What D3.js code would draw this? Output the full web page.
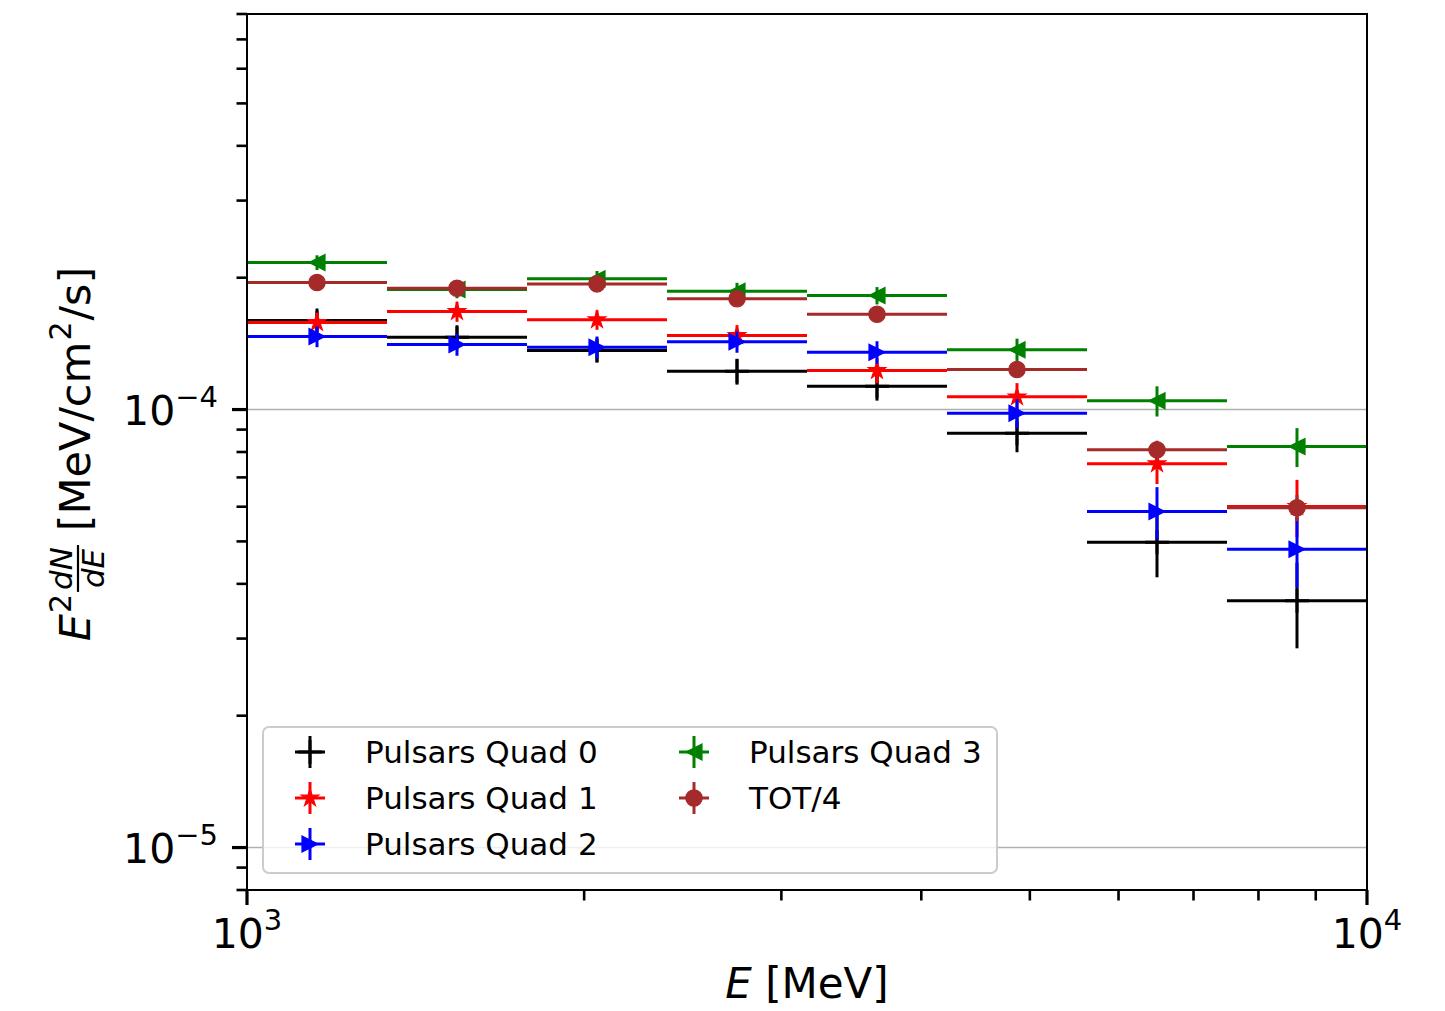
<!DOCTYPE html>
<html><head><meta charset="utf-8">
<script src="https://cdn.jsdelivr.net/npm/d3@7"></script>
<style>body{margin:0;background:#fff} text{font-family:"DejaVu Sans",sans-serif;fill:#000}</style>
</head><body><svg id="c" width="1445" height="1011"></svg>
<script>
// ---- data (E in MeV, E^2 dN/dE in MeV/cm^2/s) ----
const binEdges   = [1000, 1333.5, 1778.3, 2371.4, 3162.3, 4217.0, 5623.4, 7498.9, 10000];
const binCenters = [1154.8, 1539.9, 2053.5, 2738.4, 3651.7, 4869.7, 6493.8, 8659.6];

const quad0    = [1.597e-4, 1.463e-4, 1.364e-4, 1.223e-4, 1.130e-4, 0.883e-4, 0.498e-4, 0.366e-4];
const quad0Err = [0.083e-4, 0.083e-4, 0.082e-4, 0.083e-4, 0.082e-4, 0.084e-4, 0.084e-4, 0.081e-4];
const quad1    = [1.580e-4, 1.674e-4, 1.603e-4, 1.476e-4, 1.228e-4, 1.069e-4, 0.752e-4, 0.601e-4];
const quad1Err = [0.082e-4, 0.088e-4, 0.082e-4, 0.082e-4, 0.080e-4, 0.080e-4, 0.076e-4, 0.090e-4];
const quad2    = [1.468e-4, 1.407e-4, 1.388e-4, 1.428e-4, 1.352e-4, 0.981e-4, 0.585e-4, 0.480e-4];
const quad2Err = [0.080e-4, 0.080e-4, 0.080e-4, 0.080e-4, 0.080e-4, 0.075e-4, 0.080e-4, 0.088e-4];
const quad3    = [2.166e-4, 1.879e-4, 1.988e-4, 1.863e-4, 1.821e-4, 1.369e-4, 1.047e-4, 0.823e-4];
const quad3Err = [0.084e-4, 0.084e-4, 0.084e-4, 0.084e-4, 0.083e-4, 0.083e-4, 0.083e-4, 0.084e-4];
const totQuarter    = [1.950e-4, 1.892e-4, 1.936e-4, 1.790e-4, 1.651e-4, 1.234e-4, 0.809e-4, 0.597e-4];
const totQuarterErr = [0.042e-4, 0.042e-4, 0.042e-4, 0.041e-4, 0.041e-4, 0.040e-4, 0.040e-4, 0.041e-4];

const seriesNames   = ["Pulsars Quad 0", "Pulsars Quad 1", "Pulsars Quad 2", "Pulsars Quad 3", "TOT/4"];
const seriesColors  = ["#000000", "#ff0000", "#0000ff", "#008000", "#a52a2a"];
const seriesMarkers = ["plus", "star", "triRight", "triLeft", "circle"];
const seriesValues  = [quad0, quad1, quad2, quad3, totQuarter];
const seriesErrors  = [quad0Err, quad1Err, quad2Err, quad3Err, totQuarterErr];

const xMajorTicks = [1000, 10000];
const xMinorTicks = [2000, 3000, 4000, 5000, 6000, 7000, 8000, 9000];
const xTickExp    = ["3", "4"];
const yMajorTicks = [1e-5, 1e-4];
const yMinorTicks = [8e-6, 9e-6, 2e-5, 3e-5, 4e-5, 5e-5, 6e-5, 7e-5, 8e-5, 9e-5,
                     2e-4, 3e-4, 4e-4, 5e-4, 6e-4, 7e-4, 8e-4];
const yTickExp    = ["\u22125", "\u22124"];

// ---- layout ----
const L = 247, R = 1367, T = 14, B = 890;
const svg = d3.select("#c");
const x = d3.scaleLog().domain([1000, 10000]).range([L, R]);
const y = d3.scaleLog().domain([8e-6, 8e-4]).range([B, T]);

// grid
svg.append("g").selectAll("line").data(yMajorTicks).join("line")
  .attr("x1", L).attr("x2", R).attr("y1", d => y(d)).attr("y2", d => y(d))
  .attr("stroke", "#b0b0b0").attr("stroke-width", 1.6);

// markers
function markerPath(type) {
  switch (type) {
    case "star": return d3.symbol(d3.symbolStar, 95)();
    case "triRight": return "M-8,-8L8,0L-8,8Z";
    case "triLeft": return "M8,-8L-8,0L8,8Z";
    case "circle": return d3.symbol(d3.symbolCircle, Math.PI * 8.2 * 8.2)();
    default: return null;
  }
}
function drawMarker(g, type, color, cx, cy) {
  if (type === "plus") {
    g.append("path").attr("d", `M${cx-12},${cy}H${cx+12}M${cx},${cy-12}V${cy+12}`)
      .attr("stroke", color).attr("stroke-width", 3).attr("fill", "none");
  } else {
    g.append("path").attr("d", markerPath(type)).attr("transform", `translate(${cx},${cy})`)
      .attr("fill", color).attr("stroke", color).attr("stroke-width", 1.2);
  }
}

const plot = svg.append("g");
seriesValues.forEach((vals, si) => {
  const g = plot.append("g");
  const col = seriesColors[si];
  const errs = seriesErrors[si];
  vals.forEach((v, i) => {
    g.append("line").attr("x1", x(binEdges[i])).attr("x2", x(binEdges[i+1]))
      .attr("y1", y(v)).attr("y2", y(v)).attr("stroke", col).attr("stroke-width", 3);
    g.append("line").attr("x1", x(binCenters[i])).attr("x2", x(binCenters[i]))
      .attr("y1", y(v - errs[i])).attr("y2", y(v + errs[i])).attr("stroke", col).attr("stroke-width", 3);
  });
  vals.forEach((v, i) => drawMarker(g, seriesMarkers[si], col, x(binCenters[i]), y(v)));
});

// spines
svg.append("rect").attr("x", L).attr("y", T).attr("width", R - L).attr("height", B - T)
  .attr("fill", "none").attr("stroke", "#000").attr("stroke-width", 2);

// ticks
const tk = svg.append("g").attr("stroke", "#000");
xMajorTicks.forEach(t => tk.append("line").attr("x1", x(t)).attr("x2", x(t)).attr("y1", B).attr("y2", B + 15).attr("stroke-width", 3.2));
xMinorTicks.forEach(t => tk.append("line").attr("x1", x(t)).attr("x2", x(t)).attr("y1", B).attr("y2", B + 10.5).attr("stroke-width", 2.6));
yMajorTicks.forEach(t => tk.append("line").attr("y1", y(t)).attr("y2", y(t)).attr("x1", L).attr("x2", L - 15).attr("stroke-width", 3.2));
yMinorTicks.forEach(t => tk.append("line").attr("y1", y(t)).attr("y2", y(t)).attr("x1", L).attr("x2", L - 10.5).attr("stroke-width", 2.6));

// tick labels
xMajorTicks.forEach((t, i) => {
  const tx = svg.append("text").attr("x", x(t)).attr("y", 948).attr("text-anchor", "middle").attr("font-size", 41);
  tx.append("tspan").text("10");
  tx.append("tspan").attr("font-size", 29).attr("dy", -18).text(xTickExp[i]);
});
yMajorTicks.forEach((t, i) => {
  const tx = svg.append("text").attr("x", 218).attr("y", y(t) + 15).attr("text-anchor", "end").attr("font-size", 41);
  tx.append("tspan").text("10");
  tx.append("tspan").attr("font-size", 29).attr("dy", -18).text(yTickExp[i]);
});

// x label
const xl = svg.append("text").attr("x", 807).attr("y", 998).attr("text-anchor", "middle").attr("font-size", 42);
xl.append("tspan").attr("font-style", "italic").text("E");
xl.append("tspan").text(" [MeV]");

// y label built piecewise
const yl = svg.append("g").attr("transform", "translate(90,454) rotate(-90)");
const inner = yl.append("g");
let cur = 0;
function piece(txt, size, dy, italic) {
  const t = inner.append("text").attr("x", cur).attr("y", dy).attr("font-size", size)
    .attr("font-style", italic ? "italic" : "normal").text(txt);
  const w = t.node().getComputedTextLength();
  cur += w;
  return t;
}
piece("E", 43, 0, true);
cur += 1;
piece("2", 30, -19, false);
cur += 2;
// fraction
const fx = cur;
const num = inner.append("text").attr("y", -18).attr("font-size", 31).attr("font-style", "italic").text("dN");
const den = inner.append("text").attr("y", 14).attr("font-size", 31).attr("font-style", "italic").text("dE");
const nw = num.node().getComputedTextLength(), dw = den.node().getComputedTextLength();
const fw = Math.max(nw, dw) + 4;
num.attr("x", fx + (fw - nw) / 2);
den.attr("x", fx + (fw - dw) / 2);
inner.append("line").attr("x1", fx).attr("x2", fx + fw).attr("y1", -12).attr("y2", -12)
  .attr("stroke", "#000").attr("stroke-width", 2.2);
cur = fx + fw;
piece("\u00a0[MeV/cm", 43, 0, false);
cur += 1;
piece("2", 30, -19, false);
cur += 1;
piece("/s]", 43, 0, false);
inner.attr("transform", `translate(${-cur / 2},0)`);

// legend
const lg = svg.append("g");
lg.append("rect").attr("x", 263).attr("y", 727).attr("width", 734).attr("height", 146)
  .attr("rx", 6).attr("fill", "#fff").attr("fill-opacity", 0.8).attr("stroke", "#cccccc").attr("stroke-width", 2);
const legPos = [[310, 752], [310, 798], [310, 844], [694, 752], [694, 798]];
seriesNames.forEach((name, si) => {
  const [cx, cy] = legPos[si];
  const col = seriesColors[si];
  const g = lg.append("g");
  g.append("line").attr("x1", cx - 15).attr("x2", cx + 15).attr("y1", cy).attr("y2", cy).attr("stroke", col).attr("stroke-width", 3);
  g.append("line").attr("x1", cx).attr("x2", cx).attr("y1", cy - 16).attr("y2", cy + 16).attr("stroke", col).attr("stroke-width", 3);
  drawMarker(g, seriesMarkers[si], col, cx, cy);
  g.append("text").attr("x", cx + 55).attr("y", cy + 11).attr("font-size", 31).text(name);
});
</script></body></html>
